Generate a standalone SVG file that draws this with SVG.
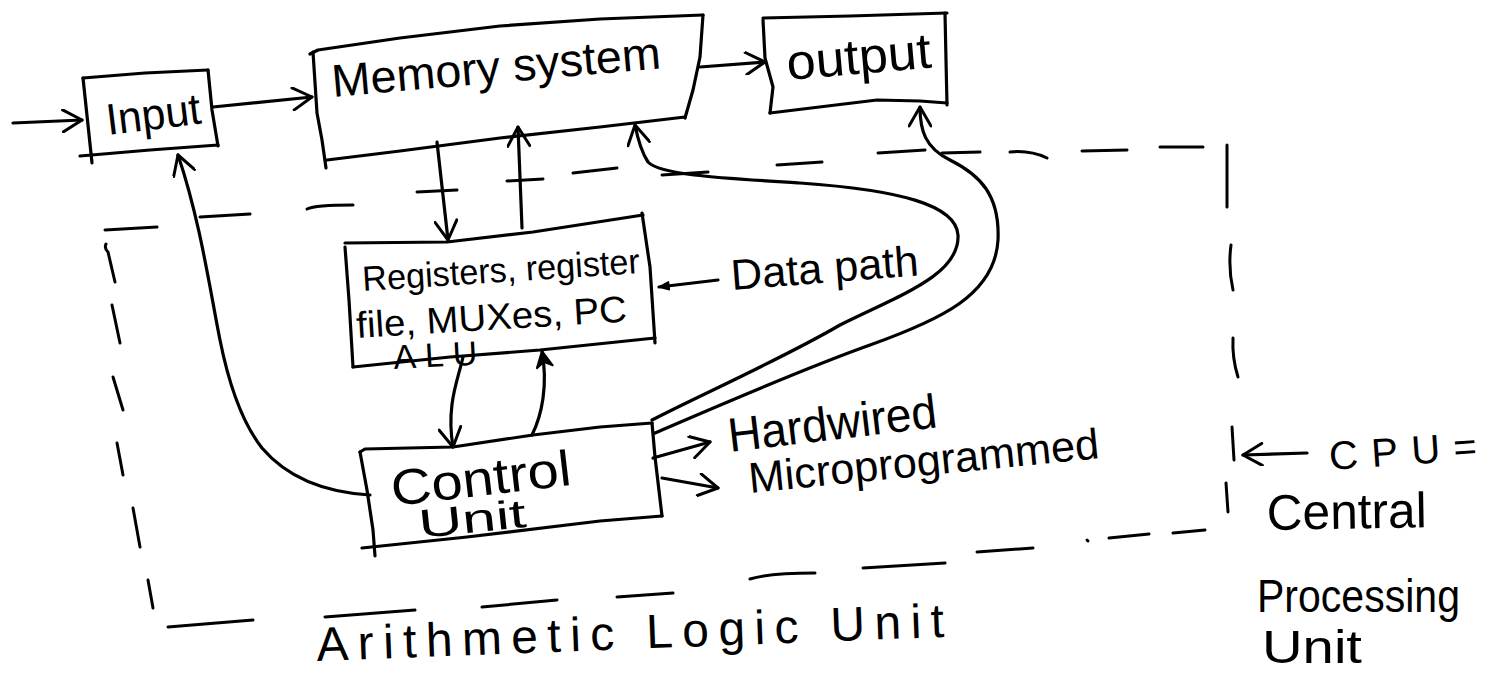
<svg xmlns="http://www.w3.org/2000/svg" width="1499" height="675" viewBox="0 0 1499 675">
  <defs>
    <style>
      .ink{fill:none;stroke:#000;stroke-width:3.2;stroke-linecap:round;stroke-linejoin:round}
      .dash{fill:none;stroke:#000;stroke-width:3;stroke-linecap:round}
      .hand{font-family:"Liberation Sans","DejaVu Sans",sans-serif;fill:#000}
    </style>
    <marker id="open" viewBox="0 0 24 24" refX="22" refY="12" markerWidth="24" markerHeight="24" markerUnits="userSpaceOnUse" orient="auto">
      <path d="M3,1 L22,12 L3,23" fill="none" stroke="#000" stroke-width="3" stroke-linecap="round" stroke-linejoin="round"/>
    </marker>
    <marker id="solid" viewBox="0 0 20 20" refX="18" refY="10" markerWidth="20" markerHeight="20" markerUnits="userSpaceOnUse" orient="auto">
      <path d="M2,2 L18,10 L2,18 L7,10 Z" fill="#000" stroke="#000" stroke-width="2" stroke-linejoin="round"/>
    </marker>
    <marker id="tiny" viewBox="0 0 12 12" refX="11" refY="6" markerWidth="12" markerHeight="12" markerUnits="userSpaceOnUse" orient="auto">
      <path d="M1,2 L11,6 L1,10 Z" fill="#000" stroke="#000" stroke-width="1.5" stroke-linejoin="round"/>
    </marker>
  </defs>
  <rect width="1499" height="675" fill="#fff"/>

  <!-- CPU boundary, hand-drawn dashes -->
  <g id="cpu-boundary" class="dash">
    <path d="M105,230 L157,227"/>
    <path d="M200,217 L250,214"/>
    <path d="M307,209 Q315,205 353,205"/>
    <path d="M417,192 L457,190"/>
    <path d="M507,181 L543,179"/>
    <path d="M573,173 L617,168"/>
    <path d="M662,175 L708,172"/>
    <path d="M777,165 L822,162"/>
    <path d="M878,153 L925,150"/>
    <path d="M942,153 L980,152"/>
    <path d="M1010,152 Q1030,150 1047,158"/>
    <path d="M1082,151 L1127,150"/>
    <path d="M1160,147 L1203,147"/>
    <path d="M1227,145 L1227,207"/>
    <path d="M1231,245 Q1228,268 1233,290"/>
    <path d="M1233,338 Q1232,358 1238,377"/>
    <path d="M1232,427 L1234,460"/>
    <path d="M1226,483 L1228,512"/>
    <path d="M1173,533 L1205,530"/>
    <path d="M1109,538 L1149,534"/>
    <path d="M1087,540 L1088,541"/>
    <path d="M977,552 L1033,548"/>
    <path d="M863,568 L945,563"/>
    <path d="M750,579 Q770,573 815,573"/>
    <path d="M617,597 L673,593"/>
    <path d="M482,607 L557,600"/>
    <path d="M325,617 L415,610"/>
    <path d="M168,627 L253,620"/>
    <path d="M106,244 Q104,248 108,252 L115,282"/>
    <path d="M112,305 L120,343"/>
    <path d="M113,377 L123,410"/>
    <path d="M117,443 L123,475"/>
    <path d="M133,508 L140,547"/>
    <path d="M148,580 L153,608"/>
  </g>

  <g id="input">
    <path class="ink" d="M83,78 L145,73 L208,70"/>
    <path class="ink" d="M208,70 L212,110 L218,146"/>
    <path class="ink" d="M80,156 L150,150 L218,145"/>
    <path class="ink" d="M83,78 L88,125 L92,163"/>
    <text class="hand" x="108" y="135" font-size="44" textLength="95" lengthAdjust="spacingAndGlyphs" transform="rotate(-7 108 135)">Input</text>
  </g>

  <g id="memory">
    <path class="ink" d="M310,54 L318,50 L400,38 L500,26 L600,19 L703,15"/>
    <path class="ink" d="M703,15 L700,57 L693,90 L685,118"/>
    <path class="ink" d="M327,160 L400,151 L500,138 L600,127 L685,117"/>
    <path class="ink" d="M313,52 L317,113 L322,140 L326,168"/>
    <text class="hand" x="333" y="97" font-size="46" textLength="330" lengthAdjust="spacingAndGlyphs" transform="rotate(-5 333 97)">Memory system</text>
  </g>

  <g id="output">
    <path class="ink" d="M763,18 L850,16 L947,13"/>
    <path class="ink" d="M763,20 L765,58 L773,87 L770,113"/>
    <path class="ink" d="M770,113 L877,100 L920,101 L947,103"/>
    <path class="ink" d="M945,13 L946,60 L947,105"/>
    <text class="hand" x="788" y="80" font-size="50" textLength="145" lengthAdjust="spacingAndGlyphs" transform="rotate(-5 788 80)">output</text>
  </g>

  <g id="registers">
    <path class="ink" d="M345,243 L447,242 L533,232 L643,215"/>
    <path class="ink" d="M345,247 L349,300 L353,367"/>
    <path class="ink" d="M353,367 L450,357 L540,350 L655,338"/>
    <path class="ink" d="M642,213 L650,267 L655,343"/>
    <text class="hand" x="363" y="291" font-size="35" textLength="278" lengthAdjust="spacingAndGlyphs" transform="rotate(-3.7 363 291)">Registers, register</text>
    <text class="hand" x="357" y="338" font-size="37" textLength="271" lengthAdjust="spacingAndGlyphs" transform="rotate(-3.5 357 338)">file, MUXes, PC</text>
    <text class="hand" x="394" y="369" font-size="34" textLength="84" lengthAdjust="spacing" transform="rotate(-3 394 369)">ALU</text>
  </g>

  <g id="control">
    <path class="ink" d="M360,452 L365,449 L453,447 L533,435 L600,427 L652,423"/>
    <path class="ink" d="M360,452 L367,490 L373,530 L375,556"/>
    <path class="ink" d="M362,548 L467,537 L600,521 L662,516"/>
    <path class="ink" d="M652,423 L655,457 L662,516"/>
    <text class="hand" x="393" y="506" font-size="50" textLength="181" lengthAdjust="spacingAndGlyphs" transform="rotate(-6.7 393 506)">Control</text>
    <text class="hand" x="420" y="538" font-size="40" textLength="108" lengthAdjust="spacingAndGlyphs" transform="rotate(-6 420 538)">Unit</text>
  </g>

  <g id="labels">
    <text class="hand" x="732" y="290" font-size="43" textLength="188" lengthAdjust="spacingAndGlyphs" transform="rotate(-4.5 732 290)">Data path</text>
    <text class="hand" x="730" y="452" font-size="48" textLength="210" lengthAdjust="spacingAndGlyphs" transform="rotate(-6.8 730 452)">Hardwired</text>
    <text class="hand" x="750" y="493" font-size="43" textLength="352" lengthAdjust="spacingAndGlyphs" transform="rotate(-5.7 750 493)">Microprogrammed</text>
    <text class="hand" x="1330" y="470" font-size="40" textLength="148" lengthAdjust="spacing" transform="rotate(-4 1330 470)">CPU=</text>
    <text class="hand" x="1267" y="530" font-size="50" textLength="160" lengthAdjust="spacingAndGlyphs" transform="rotate(-1 1267 530)">Central</text>
    <text class="hand" x="1257" y="612" font-size="46" textLength="203" lengthAdjust="spacingAndGlyphs">Processing</text>
    <text class="hand" x="1262" y="663" font-size="46" textLength="100" lengthAdjust="spacingAndGlyphs">Unit</text>
    <text class="hand" x="317" y="661" font-size="48" textLength="628" lengthAdjust="spacing" transform="rotate(-2.2 317 661)">Arithmetic Logic Unit</text>
  </g>

  <g id="connectors" class="ink">
    <path d="M13,123 L82,120" marker-end="url(#open)"/>
    <path d="M213,107 L312,97" marker-end="url(#open)"/>
    <path d="M700,67 L765,62" marker-end="url(#open)"/>
    <path d="M437,142 L448,240" marker-end="url(#open)"/>
    <path d="M522,228 L518,127" marker-end="url(#open)"/>
    <path d="M463,357 C458,380 446,405 453,447" marker-end="url(#open)"/>
    <path d="M532,435 C542,415 548,385 542,351" marker-end="url(#solid)"/>
    <path d="M718,280 L659,287" marker-end="url(#tiny)"/>
    <path d="M370,495 C320,492 285,475 262,448 C240,420 228,380 220,340 C210,290 200,220 178,155" marker-end="url(#open)"/>
    <path d="M652,420 C700,395 780,360 840,325 C900,295 960,275 958,235 C956,205 900,190 800,183 C720,178 660,175 648,162 C640,150 637,135 635,125" marker-end="url(#open)"/>
    <path d="M655,433 C720,405 800,370 870,345 C940,320 995,295 998,240 C1000,195 980,175 950,160 C925,148 920,130 920,107" marker-end="url(#open)"/>
    <path d="M653,458 L710,442" marker-end="url(#open)"/>
    <path d="M662,478 L718,488" marker-end="url(#open)"/>
    <path d="M1307,453 L1243,455" marker-end="url(#open)"/>
  </g>
</svg>
